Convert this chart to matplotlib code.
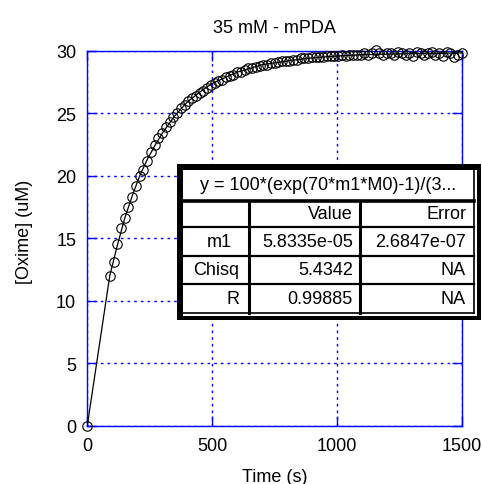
import matplotlib
matplotlib.use("Agg")
import matplotlib.pyplot as plt
from matplotlib.patches import Rectangle

plt.rcParams['font.family'] = ['Liberation Sans', 'DejaVu Sans']

# ---- data ----
time_s = [0] + list(range(90, 1501, 15))
oxime_uM = [0.0,
    12.0, 13.1, 14.5, 15.8, 16.6, 17.5, 18.3, 19.2, 20.0, 20.5,
    21.2, 21.9, 22.5, 23.0, 23.4, 23.9, 24.3, 24.7, 25.0, 25.4,
    25.7, 26.0, 26.2, 26.4, 26.6, 26.8, 27.0, 27.3, 27.4, 27.6,
    27.7, 27.9, 28.0, 28.1, 28.3, 28.3, 28.5, 28.6, 28.6, 28.7,
    28.8, 28.9, 28.9, 29.0, 29.0, 29.1, 29.2, 29.2, 29.2, 29.3,
    29.3, 29.4, 29.4, 29.4, 29.5, 29.5, 29.5, 29.5, 29.6, 29.6,
    29.6, 29.6, 29.7, 29.6, 29.7, 29.7, 29.7, 29.7, 29.8, 29.7,
    29.8, 30.1, 29.8, 29.7, 29.8, 29.8, 29.7, 29.9, 29.8, 29.7,
    29.8, 29.6, 29.9, 29.8, 29.7, 29.8, 29.9, 29.7, 29.8, 29.6,
    29.9, 29.8, 29.5, 29.7, 29.8]

fit_t = [0, 90, 120, 150, 180, 210, 240, 270, 300, 350, 400, 450, 500,
         600, 700, 800, 900, 1000, 1100, 1200, 1300, 1400, 1500]
fit_y = [0, 12.0, 14.4, 16.6, 18.4, 20.0, 21.3, 22.4, 23.4, 24.8, 25.9,
         26.7, 27.4, 28.3, 28.9, 29.2, 29.45, 29.6, 29.7, 29.75, 29.8,
         29.8, 29.85]

title = "35 mM - mPDA"
xlabel = "Time (s)"
ylabel = "[Oxime] (uM)"
xticks = [0, 500, 1000, 1500]
yticks = [0, 5, 10, 15, 20, 25, 30]

table_title = "y = 100*(exp(70*m1*M0)-1)/(3..."
table_header = ["", "Value", "Error"]
table_rows = [["m1", "5.8335e-05", "2.6847e-07"],
              ["Chisq", "5.4342", "NA"],
              ["R", "0.99885", "NA"]]

W, H = 482, 485
fig = plt.figure(figsize=(W / 100, H / 100), dpi=100)
ax = fig.add_axes([87.3 / W, 1 - 426.5 / H, (461.7 - 87.3) / W, (426.5 - 52) / H])

blue = (0, 0, 1)
ax.plot(fit_t, fit_y, color='black', lw=0.9, zorder=3)
ax.plot(time_s, oxime_uM, linestyle='none', marker='o', markersize=6.8,
        markerfacecolor='none', markeredgecolor='black', markeredgewidth=0.8,
        clip_on=False, zorder=4)

ax.set_xlim(0, 1500)
ax.set_ylim(0, 30)
ax.set_xticks(xticks)
ax.set_yticks(yticks)
ax.tick_params(direction='in', length=7.5, width=1, color=blue, top=True, right=True,
               labelsize=13, pad=8, labelcolor='black')
for s in ax.spines.values():
    s.set_color(blue)
    s.set_linewidth(1)
ax.grid(True, color=blue, linestyle=(0, (1.9, 2.9)), linewidth=1.0)
ax.set_axisbelow(True)
ax.set_title(title, fontsize=13, pad=14)
ax.set_xlabel(xlabel, fontsize=13)
ax.set_ylabel(ylabel, fontsize=13)
ax.xaxis.set_label_coords(0.5, -0.113)
ax.yaxis.set_label_coords(-0.145, 0.52)

# ---- fit table overlay (in pixel coordinates) ----
ov = fig.add_axes([0, 0, 1, 1], zorder=10)
ov.set_xlim(0, W)
ov.set_ylim(H, 0)
ov.axis('off')
ov.patch.set_alpha(0)

ov.add_patch(Rectangle((177, 165), 304, 156, facecolor='black', edgecolor='none'))
ov.add_patch(Rectangle((182.5, 170.5), 294, 146, facecolor='white', edgecolor='none'))
# inner thin border right & bottom
ov.plot([473.5, 473.5], [170.5, 313.5], color='black', lw=1.2)
ov.plot([182.5, 473.5], [313.5, 313.5], color='black', lw=1.2)
# row lines
ov.plot([182.5, 473.5], [201.5, 201.5], color='black', lw=2.6)
for yy in [228, 257, 285]:
    ov.plot([182.5, 473.5], [yy, yy], color='black', lw=1.6)
for xx in [248.5, 360]:
    ov.plot([xx, xx], [201.5, 313.5], color='black', lw=2.2)

fs = 13
ov.text(328, 186, table_title, ha='center', va='center', fontsize=fs)
row_y = [215, 242.5, 271, 299.5]
col_right = [239, 353, 466]
for j, txt in enumerate(table_header):
    ov.text(col_right[j], row_y[0], txt, ha='right', va='center', fontsize=fs)
for i, row in enumerate(table_rows):
    for j, txt in enumerate(row):
        xr = col_right[j]
        if i == 0 and j == 0:
            xr = 232
        ov.text(xr, row_y[i + 1], txt, ha='right', va='center', fontsize=fs)

fig.savefig("out.png", dpi=100)
